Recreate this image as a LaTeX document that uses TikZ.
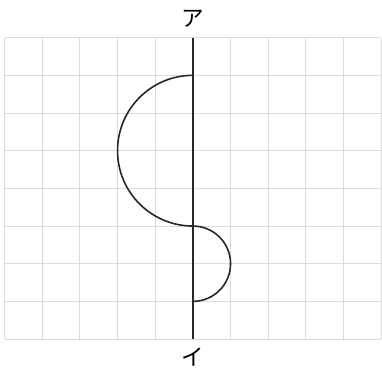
\documentclass[tikz,border=0pt]{standalone}
\usepackage{fontspec}
\newfontfamily\jpfont{Noto Sans CJK JP}
\begin{document}
\begin{tikzpicture}[x=1cm,y=1cm,
  gridline/.style={draw=gray!28, line width=0.75pt},
  axisline/.style={draw=black!85, line width=1.4pt},
  curveline/.style={draw=black!85, line width=1.2pt},
  lbl/.style={font=\jpfont\fontsize{17}{17}\selectfont, inner sep=0pt}]
\useasboundingbox (-0.12,-0.905) rectangle (10.02,9.0);
\draw[gridline] (0,0) grid (10,8);
\coordinate (top) at (5,8);
\coordinate (bot) at (5,0);
\coordinate (p1) at (5,7);
\draw[axisline] (top) -- (bot);
\draw[curveline] (p1) arc[start angle=90, end angle=270, radius=2]
  arc[start angle=90, end angle=-90, radius=1];
\node[lbl] (a) at (5,8.5) {ア};
\node[lbl] (b) at (5,-0.47) {イ};
\end{tikzpicture}
\end{document}
